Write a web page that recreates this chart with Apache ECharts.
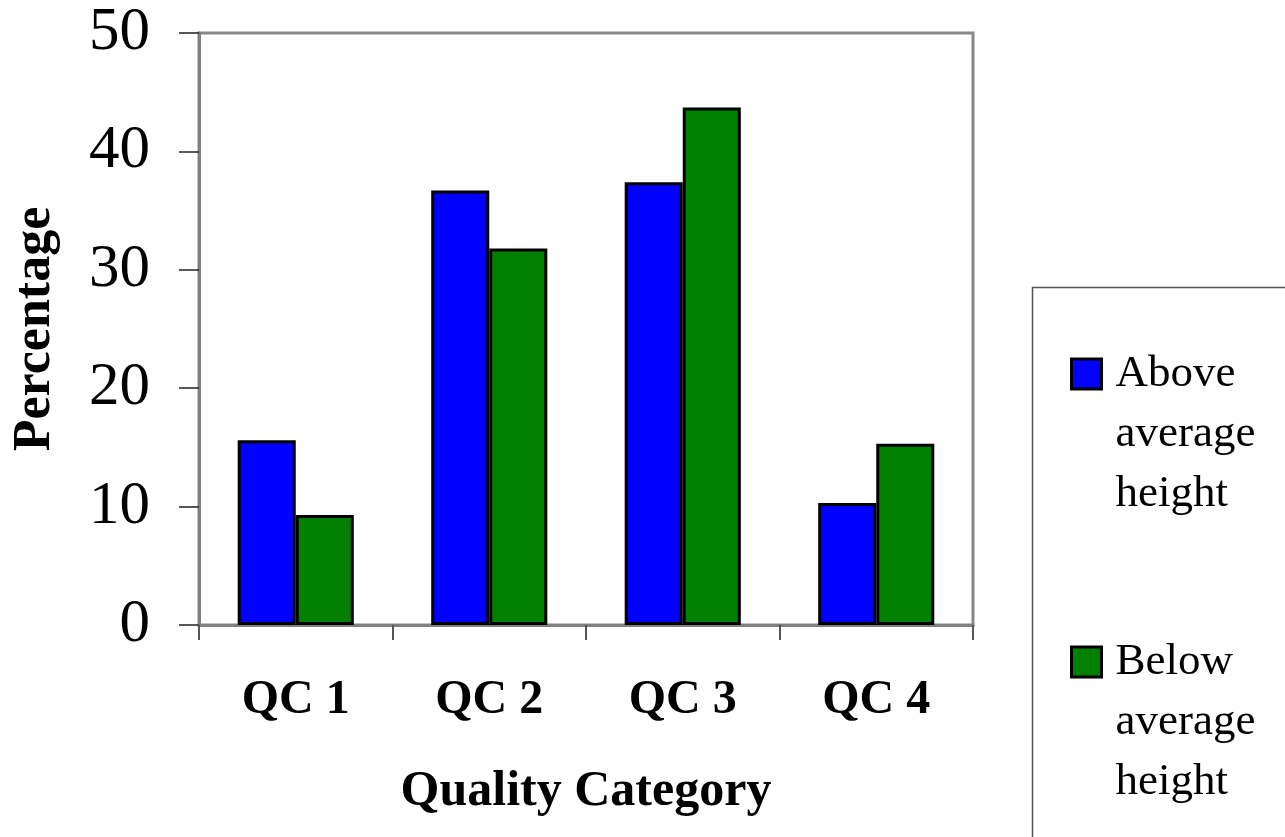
<!DOCTYPE html>
<html>
<head>
<meta charset="utf-8">
<title>Percentage by Quality Category</title>
<script src="https://cdn.jsdelivr.net/npm/echarts@6/dist/echarts.min.js"></script>
<style>
  html, body { margin: 0; padding: 0; background: #ffffff; }
  #chart { width: 1285px; height: 837px; }
</style>
</head>
<body>
<div id="chart"></div>
<script>
// Quality categories on the x axis
const categories = ['QC 1', 'QC 2', 'QC 3', 'QC 4'];
// Share (%) of each height group in every quality category
const aboveAverage = [15.6, 36.7, 37.4, 10.3];
const belowAverage = [9.3, 31.8, 43.7, 15.3];
const seriesNames = ['Above average height', 'Below average height'];
const yTicks = { min: 0, max: 50, interval: 10 };

const FONT = '"Liberation Serif", "Times New Roman", serif';

const chart = echarts.init(document.getElementById('chart'), null, { renderer: 'canvas' });

// Legend labels wrap one word per line; two empty lines on top keep the
// first word level with the colour swatch (the label block is centred on it).
const legendLabel = name => '\n\n' + name.split(' ').join('\n');

chart.setOption({
  backgroundColor: '#ffffff',
  animation: false,
  textStyle: { fontFamily: FONT, color: '#000' },
  grid: {
    left: 199, right: 312, top: 33, bottom: 212,
    show: true, borderColor: '#888888', borderWidth: 3, backgroundColor: 'transparent'
  },
  xAxis: {
    type: 'category',
    data: categories,
    name: 'Quality Category',
    nameLocation: 'middle',
    nameGap: 142,
    nameTextStyle: { fontFamily: FONT, fontSize: 50, fontWeight: 'bold', color: '#000' },
    axisLine: { lineStyle: { color: '#808080', width: 3 } },
    axisTick: { show: true, length: 15, lineStyle: { color: '#555', width: 2 } },
    axisLabel: { margin: 52, fontFamily: FONT, fontSize: 48, fontWeight: 'bold', color: '#000' }
  },
  yAxis: {
    type: 'value',
    min: yTicks.min, max: yTicks.max, interval: yTicks.interval,
    name: 'Percentage',
    nameLocation: 'middle',
    nameGap: 137,
    nameTextStyle: { fontFamily: FONT, fontSize: 52, fontWeight: 'bold', color: '#000' },
    axisLine: { show: true, lineStyle: { color: '#808080', width: 3 } },
    axisTick: { show: true, length: 20, lineStyle: { color: '#222', width: 1.5 } },
    splitLine: { show: false },
    axisLabel: { margin: 49, fontFamily: FONT, fontSize: 61, color: '#000' }
  },
  legend: {
    orient: 'vertical',
    left: 1070,
    top: 224,
    padding: 0,
    itemGap: -12,
    itemWidth: 30,
    itemHeight: 30,
    icon: 'rect',
    itemStyle: { borderColor: '#000', borderWidth: 3 },
    formatter: legendLabel,
    textStyle: {
      fontFamily: FONT, fontSize: 45, color: '#000',
      lineHeight: 60,
      padding: [0, 0, 0, 9]
    },
    data: seriesNames
  },
  graphic: [{
    type: 'rect',
    z: -1,
    shape: { x: 1032.5, y: 287.5, width: 400, height: 700 },
    style: { fill: '#ffffff', stroke: '#555555', lineWidth: 1.5 }
  }],
  series: [
    {
      name: seriesNames[0],
      type: 'bar',
      data: aboveAverage,
      barGap: '0%',
      barCategoryGap: '40%',
      itemStyle: { color: '#0000ff', borderColor: '#000', borderWidth: 3 }
    },
    {
      name: seriesNames[1],
      type: 'bar',
      data: belowAverage,
      barGap: '0%',
      barCategoryGap: '40%',
      itemStyle: { color: '#008000', borderColor: '#000', borderWidth: 3 }
    }
  ]
});
</script>
</body>
</html>
